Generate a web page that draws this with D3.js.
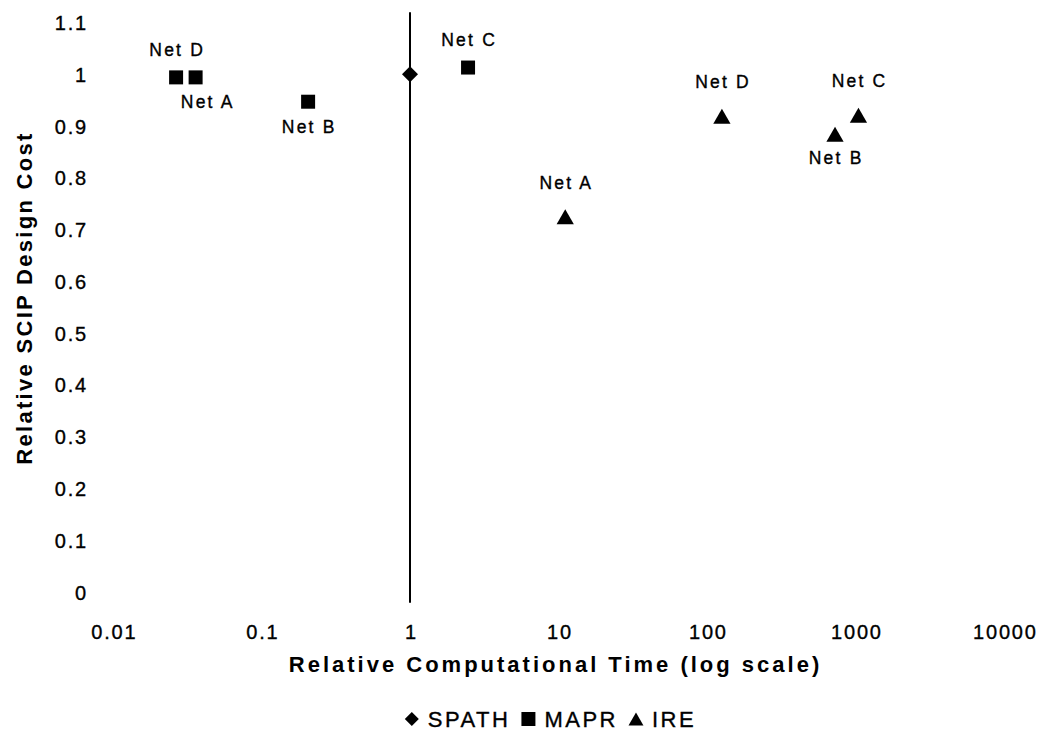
<!DOCTYPE html>
<html>
<head>
<meta charset="utf-8">
<script src="https://cdn.jsdelivr.net/npm/d3@7"></script>
<style>
  body { margin: 0; background: #fff; }
  svg text { font-family: "Liberation Sans", Arial, Helvetica, sans-serif; fill: #000; }
  svg text.ink { stroke: #000; stroke-width: 0.35px; }
</style>
</head>
<body>
<svg id="chart" width="1053" height="732"></svg>
<script>
// ---- data ----
const networks = ["Net A", "Net B", "Net C", "Net D"];

const spathTime = [1];
const spathCost = [1];

const maprTime = [0.036, 0.206, 2.46, 0.0266];
const maprCost = [0.994, 0.947, 1.013, 0.994];
const maprLabelSide = ["below right", "below", "above", "above"];

const ireTime = [11.1, 728, 1047, 126];
const ireCost = [0.725, 0.884, 0.921, 0.919];
const ireLabelSide = ["above", "below", "above", "above"];

const xTicks = [0.01, 0.1, 1, 10, 100, 1000, 10000];
const xTickLabels = ["0.01", "0.1", "1", "10", "100", "1000", "10000"];
const yTicks = [0, 0.1, 0.2, 0.3, 0.4, 0.5, 0.6, 0.7, 0.8, 0.9, 1, 1.1];
const yTickLabels = ["0", "0.1", "0.2", "0.3", "0.4", "0.5", "0.6", "0.7", "0.8", "0.9", "1", "1.1"];

const seriesNames = ["SPATH", "MAPR", "IRE"];
const xTitle = "Relative Computational Time (log scale)";
const yTitle = "Relative SCIP Design Cost";

// ---- layout ----
const svg = d3.select("#chart");
const x = d3.scaleLog().domain([0.01, 10000]).range([113, 1004]);
const y = d3.scaleLinear().domain([0, 1.1]).range([592, 22.5]);
const axisSpan = [-0.021, 1.12]; // the value axis line runs a little past the end ticks

// marker shapes (bounding-box centred)
const shapes = {
  diamond: r => `M0,${-r}L${r},0L0,${r}L${-r},0Z`,
  square: r => `M${-r},${-r}h${2 * r}v${2 * r}h${-2 * r}Z`,
  triangle: r => `M0,${-r}L${r * 1.15},${r}L${-r * 1.15},${r}Z`
};

// ---- axes ----
const tickFont = 20, tickSpacing = 1.8;

const xAxis = svg.append("g")
  .attr("transform", "translate(0,625)")
  .call(d3.axisBottom(x).tickValues(xTicks)
    .tickFormat((d, i) => xTickLabels[i]).tickSize(0).tickPadding(0));
xAxis.select(".domain").remove();
xAxis.selectAll("text")
  .attr("class", "ink")
  .attr("y", 14)
  .attr("dy", 0)
  .attr("dx", tickSpacing / 2)
  .style("font-size", tickFont + "px")
  .style("letter-spacing", tickSpacing + "px");

const yAxis = svg.append("g")
  .attr("transform", "translate(88,0)")
  .call(d3.axisLeft(y).tickValues(yTicks)
    .tickFormat((d, i) => yTickLabels[i]).tickSize(0).tickPadding(0));
yAxis.select(".domain").remove();
yAxis.selectAll("text")
  .attr("class", "ink")
  .attr("dy", 7)
  .attr("x", 0)
  .style("font-size", tickFont + "px")
  .style("letter-spacing", tickSpacing + "px");

// vertical value axis crossing at x = 1
svg.append("line")
  .attr("x1", x(1)).attr("x2", x(1))
  .attr("y1", y(axisSpan[1])).attr("y2", y(axisSpan[0]))
  .attr("stroke", "#000").attr("stroke-width", 2);

// axis titles
svg.append("text")
  .attr("x", 554 + 1.5).attr("y", 672)
  .attr("text-anchor", "middle")
  .style("font-size", "22px").style("font-weight", "bold")
  .style("letter-spacing", "3px")
  .text(xTitle);

svg.append("text")
  .attr("transform", "translate(32,298) rotate(-90)")
  .attr("text-anchor", "middle")
  .style("font-size", "22px").style("font-weight", "bold")
  .style("letter-spacing", "2.3px")
  .text(yTitle);

// ---- points ----
const plot = svg.append("g");

plot.selectAll("path.spath")
  .data(spathTime.map((t, i) => ({ t, c: spathCost[i] })))
  .join("path").attr("class", "spath")
  .attr("d", shapes.diamond(8))
  .attr("transform", d => `translate(${x(d.t)},${y(d.c)})`)
  .attr("fill", "#000");

plot.selectAll("path.mapr")
  .data(maprTime.map((t, i) => ({ t, c: maprCost[i] })))
  .join("path").attr("class", "mapr")
  .attr("d", shapes.square(7))
  .attr("transform", d => `translate(${x(d.t)},${y(d.c)})`)
  .attr("fill", "#000");

plot.selectAll("path.ire")
  .data(ireTime.map((t, i) => ({ t, c: ireCost[i] })))
  .join("path").attr("class", "ire")
  .attr("d", shapes.triangle(7.5))
  .attr("transform", d => `translate(${x(d.t)},${y(d.c)})`)
  .attr("fill", "#000");

// ---- point labels ----
function labelOffset(side, above, below) {
  const o = { dx: 0, dy: 0 };
  if (side.includes("above")) o.dy = above;
  if (side.includes("below")) o.dy = below;
  if (side.includes("right")) o.dx = 11;
  return o;
}
const labelFont = 17.5, labelSpacing = 2.2;
function drawLabels(cls, times, costs, sides, above, below) {
  plot.selectAll("text." + cls)
    .data(networks.map((n, i) => ({ n, t: times[i], c: costs[i], side: sides[i] })))
    .join("text").attr("class", cls + " ink")
    .attr("x", d => x(d.t) + labelOffset(d.side, above, below).dx + labelSpacing / 2)
    .attr("y", d => y(d.c) + labelOffset(d.side, above, below).dy + 6)
    .attr("text-anchor", "middle")
    .style("font-size", labelFont + "px")
    .style("letter-spacing", labelSpacing + "px")
    .text(d => d.n);
}
drawLabels("mapr-label", maprTime, maprCost, maprLabelSide, -27.5, 25);
drawLabels("ire-label", ireTime, ireCost, ireLabelSide, -34, 24);

// ---- legend ----
const legendShapes = [shapes.diamond(7), shapes.square(7), shapes.triangle(6.5)];
const legend = svg.append("g");
let cursor = 0;
seriesNames.forEach((name, i) => {
  legend.append("path")
    .attr("d", legendShapes[i])
    .attr("transform", `translate(${cursor + 7},0)`)
    .attr("fill", "#000");
  cursor += 14 + 9;
  const t = legend.append("text")
    .attr("class", "ink")
    .attr("x", cursor).attr("y", 8)
    .style("font-size", "22px")
    .style("letter-spacing", "2.5px")
    .text(name);
  cursor += t.node().getComputedTextLength() + 11;
});
const legendWidth = cursor - 11;
legend.attr("transform", `translate(${550.5 - legendWidth / 2},719)`);
</script>
</body>
</html>
